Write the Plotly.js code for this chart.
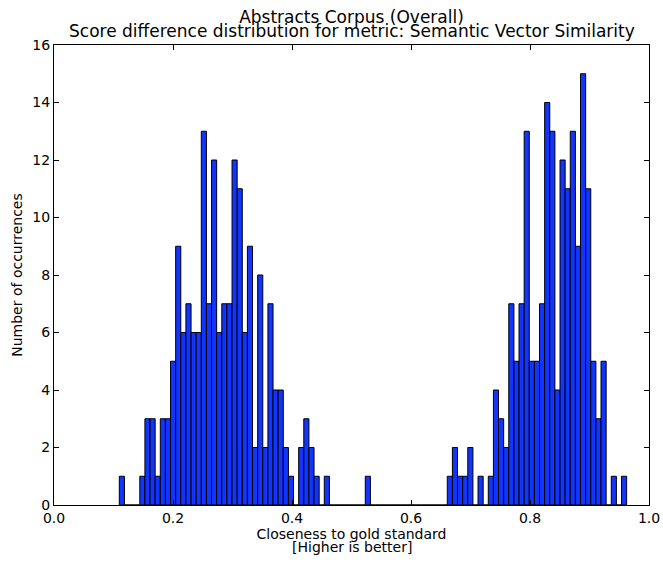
<!DOCTYPE html>
<html>
<head>
<meta charset="utf-8">
<script src="https://cdn.plot.ly/plotly-3.0.1.min.js"></script>
<style>html,body{margin:0;padding:0;background:#fff;}#chart{width:663px;height:563px;}</style>
</head>
<body>
<div id="chart"></div>
<script>
// Histogram bins: first bin left edge and bin width (data units)
const binStart = 0.10975;
const binWidth = 0.008613;
// Counts per bin
const counts = [
  1,0,0,0,1,3,3,1,3,3,
  5,9,6,7,6,6,13,7,12,6,
  7,7,12,11,6,9,2,8,2,7,
  4,4,2,1,0,2,3,2,1,0,
  1,0,0,0,0,0,0,0,1,0,
  0,0,0,0,0,0,0,0,0,0,
  0,0,0,0,1,2,1,1,2,0,
  1,0,1,4,3,2,7,5,7,13,
  5,5,7,14,13,4,12,11,13,9,
  15,11,5,3,5,0,1,0,1
];
const xTickVals = [0.0, 0.2, 0.4, 0.6, 0.8, 1.0];
const xTickText = ["0.0", "0.2", "0.4", "0.6", "0.8", "1.0"];
const yTickVals = [0, 2, 4, 6, 8, 10, 12, 14, 16];
const titleLine1 = "Abstracts Corpus (Overall)";
const titleLine2 = "Score difference distribution for metric: Semantic Vector Similarity";
const xLabelLine1 = "Closeness to gold standard";
const xLabelLine2 = "[Higher is better]";
const yLabel = "Number of occurrences";

const centers = counts.map((c, i) => binStart + (i + 0.5) * binWidth);

const family = "DejaVu Sans, Verdana, sans-serif";
const font = {family: family, size: 14, color: "#000"};
const titleFont = {family: family, size: 17, color: "#000"};

const trace = {
  type: "bar",
  x: centers,
  y: counts,
  width: binWidth,
  marker: {color: "rgb(18,52,255)", line: {color: "#000", width: 1}},
  hoverinfo: "x+y"
};

const axisCommon = {
  showline: true, linecolor: "#000", linewidth: 1, mirror: "ticks",
  ticks: "inside", ticklen: 5, tickwidth: 1, tickcolor: "#000",
  showgrid: false, zeroline: false, tickfont: font
};

const layout = {
  width: 663, height: 563,
  margin: {l: 54, r: 14, t: 45, b: 58},
  paper_bgcolor: "#fff", plot_bgcolor: "#fff",
  font: font,
  showlegend: false,
  bargap: 0,
  title: {
    text: titleLine1,
    font: titleFont, x: 0.5, xref: "paper", xanchor: "center",
    y: 1 - 17 / 563, yref: "container", yanchor: "middle"
  },
  annotations: [
    {text: titleLine2, font: titleFont, xref: "paper", yref: "paper",
     x: 0.5, y: (505 - 31) / 460, xanchor: "center", yanchor: "middle", showarrow: false},
    {text: xLabelLine2, font: font, xref: "paper", yref: "paper",
     x: 0.5, y: (505 - 547) / 460, xanchor: "center", yanchor: "middle", showarrow: false}
  ],
  xaxis: Object.assign({}, axisCommon, {
    range: [0, 1], tickvals: xTickVals, ticktext: xTickText,
    title: {text: xLabelLine1, font: font, standoff: 4}
  }),
  yaxis: Object.assign({}, axisCommon, {
    range: [0, 16], tickvals: yTickVals,
    title: {text: yLabel, font: font, standoff: 6}
  })
};

Plotly.newPlot("chart", [trace], layout, {displayModeBar: false, staticPlot: true});
</script>
</body>
</html>
